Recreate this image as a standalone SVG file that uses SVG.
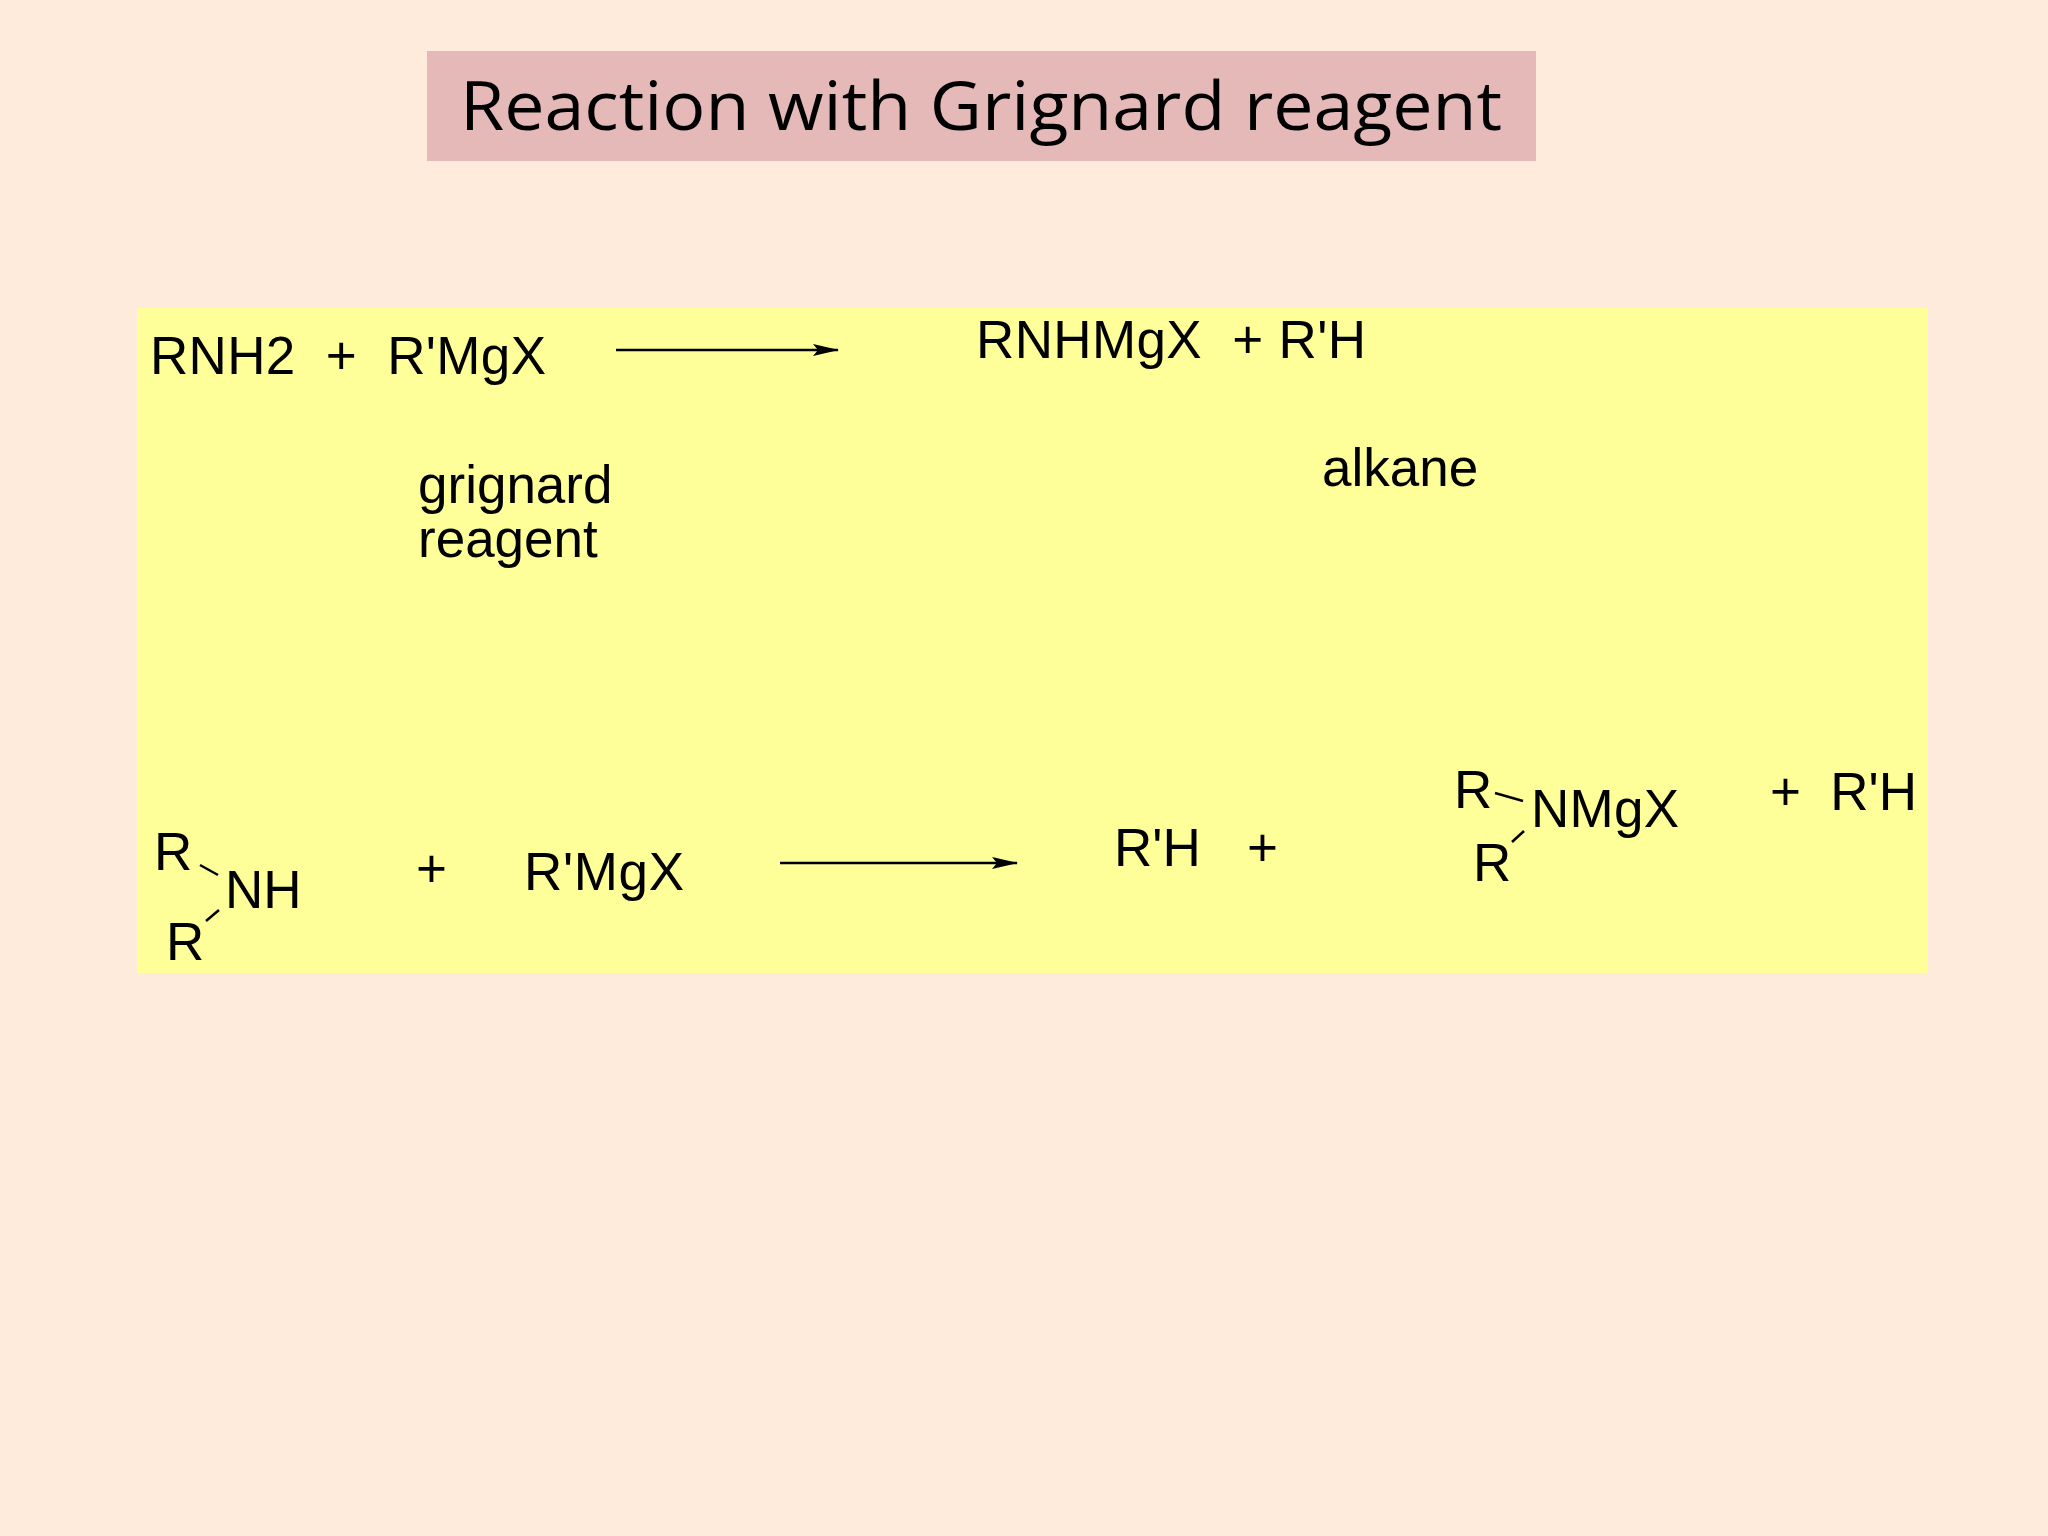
<svg xmlns="http://www.w3.org/2000/svg" width="2048" height="1536" viewBox="0 0 2048 1536">
<defs>
<style>
.t{font-family:"Liberation Sans",Arial,sans-serif;font-size:53px;fill:#000}
.b{stroke:#000;stroke-width:2.5}
</style>
<marker id="ah" markerWidth="26" markerHeight="12" refX="25" refY="6" orient="auto" markerUnits="userSpaceOnUse"><path d="M0,0 L26,6 L0,12 L5,6 Z" fill="#000"/></marker>
</defs>
<rect width="2048" height="1536" fill="#ffebdc"/>
<g id="title"><rect x="427" y="51" width="1109" height="110" fill="#e6b9b9"/>
<text x="981" y="130" text-anchor="middle" font-family="Open Sans,sans-serif" font-size="68" textLength="1042" lengthAdjust="spacingAndGlyphs">Reaction with Grignard reagent</text></g>
<rect x="137" y="308" width="1791" height="665" fill="#ffff99"/>
<g id="reaction1">
<text class="t" x="150" y="374" xml:space="preserve" textLength="396">RNH2  +  R'MgX</text>
<text class="t" x="976" y="358" xml:space="preserve" textLength="390">RNHMgX  + R'H</text>
<text class="t" x="418" y="503">grignard</text>
<text class="t" x="418" y="557">reagent</text>
<text class="t" x="1322" y="486">alkane</text>
</g>
<g id="reaction2">
<text class="t" x="154" y="870">R</text>
<text class="t" x="225" y="908">NH</text>
<text class="t" x="166" y="960">R</text>
<text class="t" x="416" y="887">+</text>
<text class="t" x="524" y="890" textLength="160">R'MgX</text>
<text class="t" x="1114" y="866">R'H</text>
<text class="t" x="1247" y="866">+</text>
<text class="t" x="1454" y="808">R</text>
<text class="t" x="1531" y="827" textLength="148">NMgX</text>
<text class="t" x="1473" y="881">R</text>
<text class="t" x="1770" y="810" xml:space="preserve" textLength="147">+  R'H</text>
<line class="b" x1="200" y1="865" x2="218" y2="875"/>
<line class="b" x1="206" y1="921" x2="219" y2="910"/>
<line class="b" x1="1495" y1="793" x2="1523" y2="801"/>
<line class="b" x1="1512" y1="842" x2="1524" y2="831"/>
</g>
<g id="connectors">
<line class="b" x1="616" y1="350" x2="838" y2="350" marker-end="url(#ah)"/>
<line class="b" x1="780" y1="863" x2="1017" y2="863" marker-end="url(#ah)"/>
</g>
</svg>
